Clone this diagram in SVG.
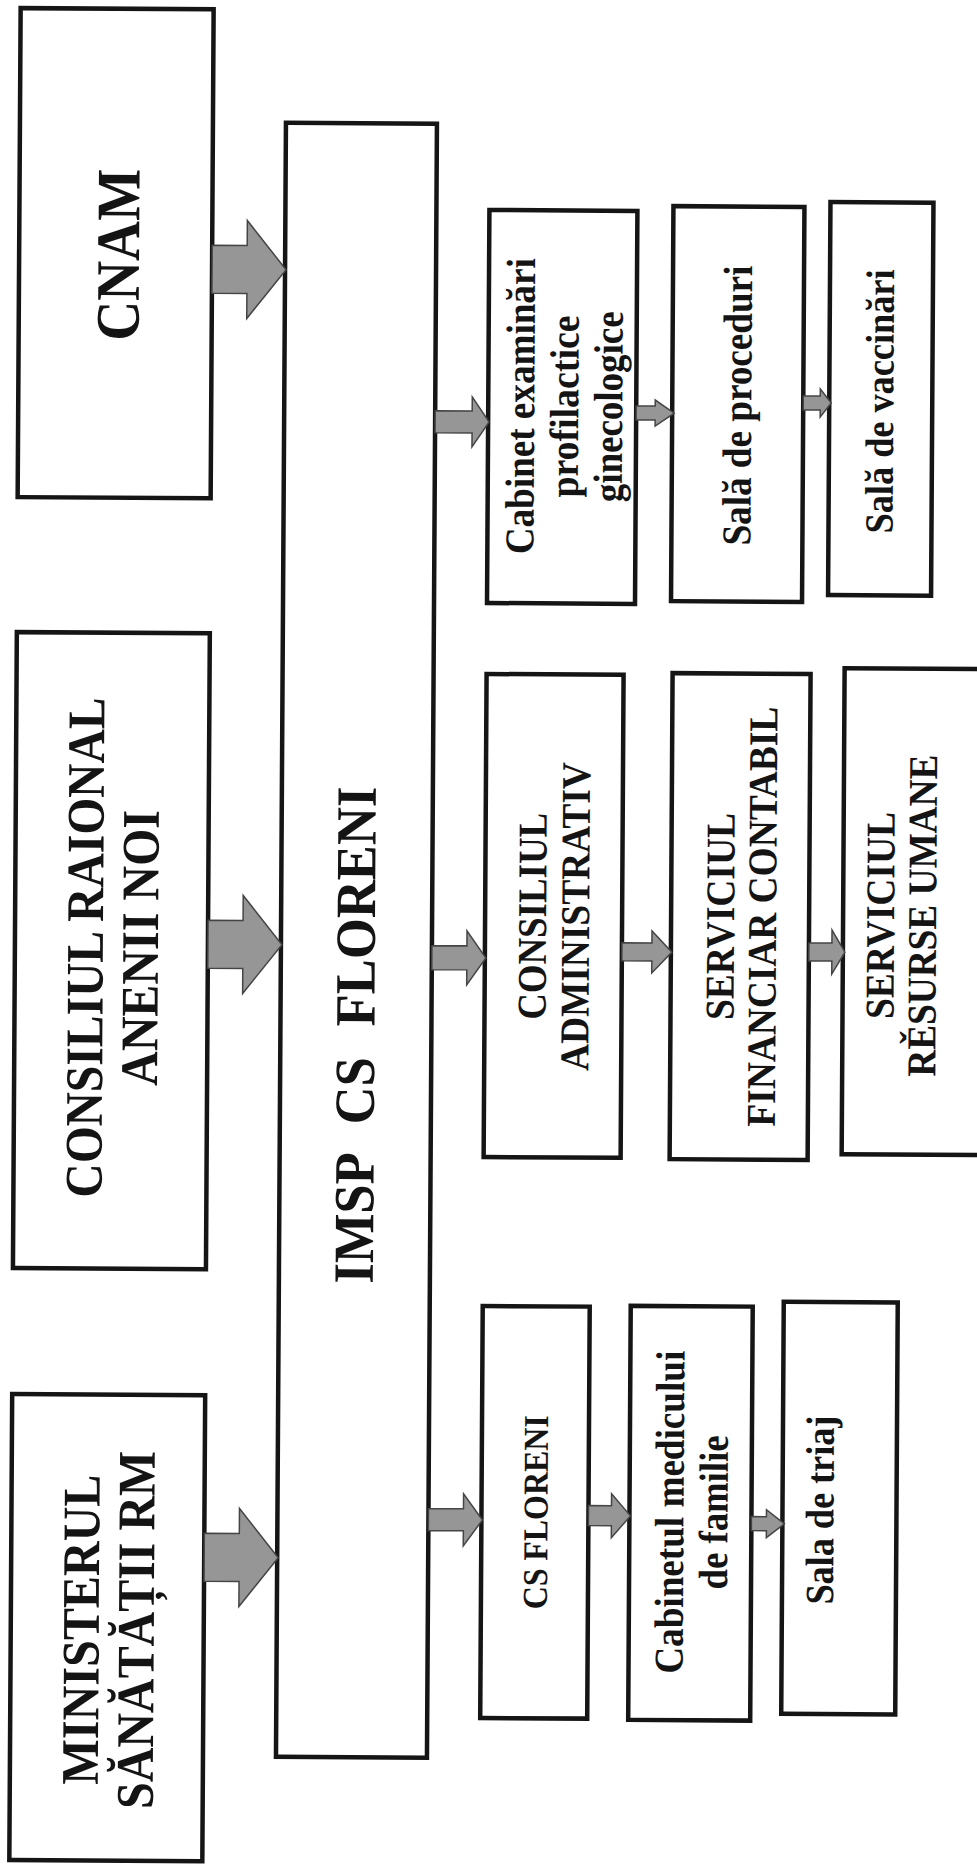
<svg xmlns="http://www.w3.org/2000/svg" width="977" height="1866" viewBox="0 0 977 1866">
<style>
.box{fill:#fff;stroke:#151515;stroke-width:4.5}
.t{font-family:"Liberation Serif","Times New Roman",serif;font-weight:bold;fill:#141414;text-anchor:middle}
.arr{fill:#969696;stroke:#454545;stroke-width:1.5;stroke-linejoin:miter}
</style>
<rect x="0" y="0" width="977" height="1866" fill="#fff"/>
<g transform="rotate(0.35 488 933)">
<g id="cnam"><rect class="box" x="15" y="11" width="193" height="489"/>
<text class="t" font-size="62" transform="rotate(-90)" x="-257" y="135" textLength="172" lengthAdjust="spacingAndGlyphs">CNAM</text></g>
<g id="consiliul-raional"><rect class="box" x="15" y="635" width="193" height="636"/>
<text class="t" font-size="53" transform="rotate(-90)" x="-950" y="103" textLength="500" lengthAdjust="spacingAndGlyphs">CONSILIUL RAIONAL</text>
<text class="t" font-size="53" transform="rotate(-90)" x="-950" y="158" textLength="276" lengthAdjust="spacingAndGlyphs">ANENII NOI</text></g>
<g id="ministerul"><rect class="box" x="15" y="1397" width="193" height="466"/>
<text class="t" font-size="53" transform="rotate(-90)" x="-1632" y="103" textLength="310" lengthAdjust="spacingAndGlyphs">MINISTERUL</text>
<text class="t" font-size="53" transform="rotate(-90)" x="-1632" y="158" textLength="358" lengthAdjust="spacingAndGlyphs">SĂNĂTĂȚII RM</text></g>
<g id="imsp"><rect class="box" x="281" y="124" width="151" height="1634"/>
<text class="t" font-size="57" word-spacing="19" transform="rotate(-90)" x="-1036" y="375" textLength="497" lengthAdjust="spacingAndGlyphs">IMSP CS FLORENI</text></g>
<g id="cabinet-examinari"><rect class="box" x="485" y="210" width="148" height="393"/>
<text class="t" font-size="41" transform="rotate(-90)" x="-406" y="531" textLength="296" lengthAdjust="spacingAndGlyphs">Cabinet examinări</text>
<text class="t" font-size="41" transform="rotate(-90)" x="-406" y="575" textLength="182" lengthAdjust="spacingAndGlyphs">profilactice</text>
<text class="t" font-size="41" transform="rotate(-90)" x="-406" y="619" textLength="191" lengthAdjust="spacingAndGlyphs">ginecologice</text></g>
<g id="sala-proceduri"><rect class="box" x="669" y="205" width="131" height="395"/>
<text class="t" font-size="41" transform="rotate(-90)" x="-404" y="748" textLength="280" lengthAdjust="spacingAndGlyphs">Sală de proceduri</text></g>
<g id="sala-vaccinari"><rect class="box" x="826" y="200" width="103" height="393"/>
<text class="t" font-size="40" transform="rotate(-90)" x="-399" y="890" textLength="264" lengthAdjust="spacingAndGlyphs">Sală de vaccinări</text></g>
<g id="consiliul-administrativ"><rect class="box" x="485" y="674" width="137" height="483"/>
<text class="t" font-size="41" transform="rotate(-90)" x="-916" y="546" textLength="207" lengthAdjust="spacingAndGlyphs">CONSILIUL</text>
<text class="t" font-size="41" transform="rotate(-90)" x="-916" y="589" textLength="309" lengthAdjust="spacingAndGlyphs">ADMINISTRATIV</text></g>
<g id="serviciul-financiar"><rect class="box" x="671" y="672" width="138" height="486"/>
<text class="t" font-size="41" transform="rotate(-90)" x="-915" y="734" textLength="207" lengthAdjust="spacingAndGlyphs">SERVICIUL</text>
<text class="t" font-size="41" transform="rotate(-90)" x="-915" y="776" textLength="420" lengthAdjust="spacingAndGlyphs">FINANCIAR CONTABIL</text></g>
<g id="serviciul-resurse"><rect class="box" x="843" y="666" width="160" height="486"/>
<text class="t" font-size="41" transform="rotate(-90)" x="-913" y="894" textLength="207" lengthAdjust="spacingAndGlyphs">SERVICIUL</text>
<text class="t" font-size="41" transform="rotate(-90)" x="-913" y="936" textLength="322" lengthAdjust="spacingAndGlyphs">RĚSURSE UMANE</text></g>
<g id="cs-floreni"><rect class="box" x="485" y="1306" width="107" height="412"/>
<text class="t" font-size="35" transform="rotate(-90)" x="-1512" y="551" textLength="194" lengthAdjust="spacingAndGlyphs">CS FLORENI</text></g>
<g id="cabinetul-medicului"><rect class="box" x="633" y="1305" width="122" height="414"/>
<text class="t" font-size="41" transform="rotate(-90)" x="-1511" y="687" textLength="323" lengthAdjust="spacingAndGlyphs">Cabinetul medicului</text>
<text class="t" font-size="41" transform="rotate(-90)" x="-1511" y="731" textLength="154" lengthAdjust="spacingAndGlyphs">de familie</text></g>
<g id="sala-triaj"><rect class="box" x="786" y="1300" width="114" height="412"/>
<text class="t" font-size="40" transform="rotate(-90)" x="-1508" y="837" textLength="189" lengthAdjust="spacingAndGlyphs">Sala de triaj</text></g>
<g id="connectors">
<polygon class="arr" points="208,247 243,247 243,222 282,271 243,320 243,295 208,295"/>
<polygon class="arr" points="208,922 243,922 243,897 282,946 243,995 243,970 208,970"/>
<polygon class="arr" points="208,1535 243,1535 243,1510 282,1559 243,1608 243,1583 208,1583"/>
<polygon class="arr" points="432,411 469,411 469,397 486,422 469,447 469,433 432,433"/>
<polygon class="arr" points="432,946 467,946 467,931 486,958 467,985 467,970 432,970"/>
<polygon class="arr" points="432,1509 467,1509 467,1494 486,1520 467,1546 467,1531 432,1531"/>
<polygon class="arr" points="633,405 652,405 652,399 671,412 652,425 652,419 633,419"/>
<polygon class="arr" points="800,394 817,394 817,387 828,401 817,415 817,408 800,408"/>
<polygon class="arr" points="622,942 652,942 652,930 672,951 652,972 652,960 622,960"/>
<polygon class="arr" points="809,941 832,941 832,928 845,950 832,972 832,959 809,959"/>
<polygon class="arr" points="592,1505 615,1505 615,1493 634,1515 615,1537 615,1525 592,1525"/>
<polygon class="arr" points="755,1515 770,1515 770,1508 788,1522 770,1536 770,1529 755,1529"/>
</g>
</g>
</svg>
